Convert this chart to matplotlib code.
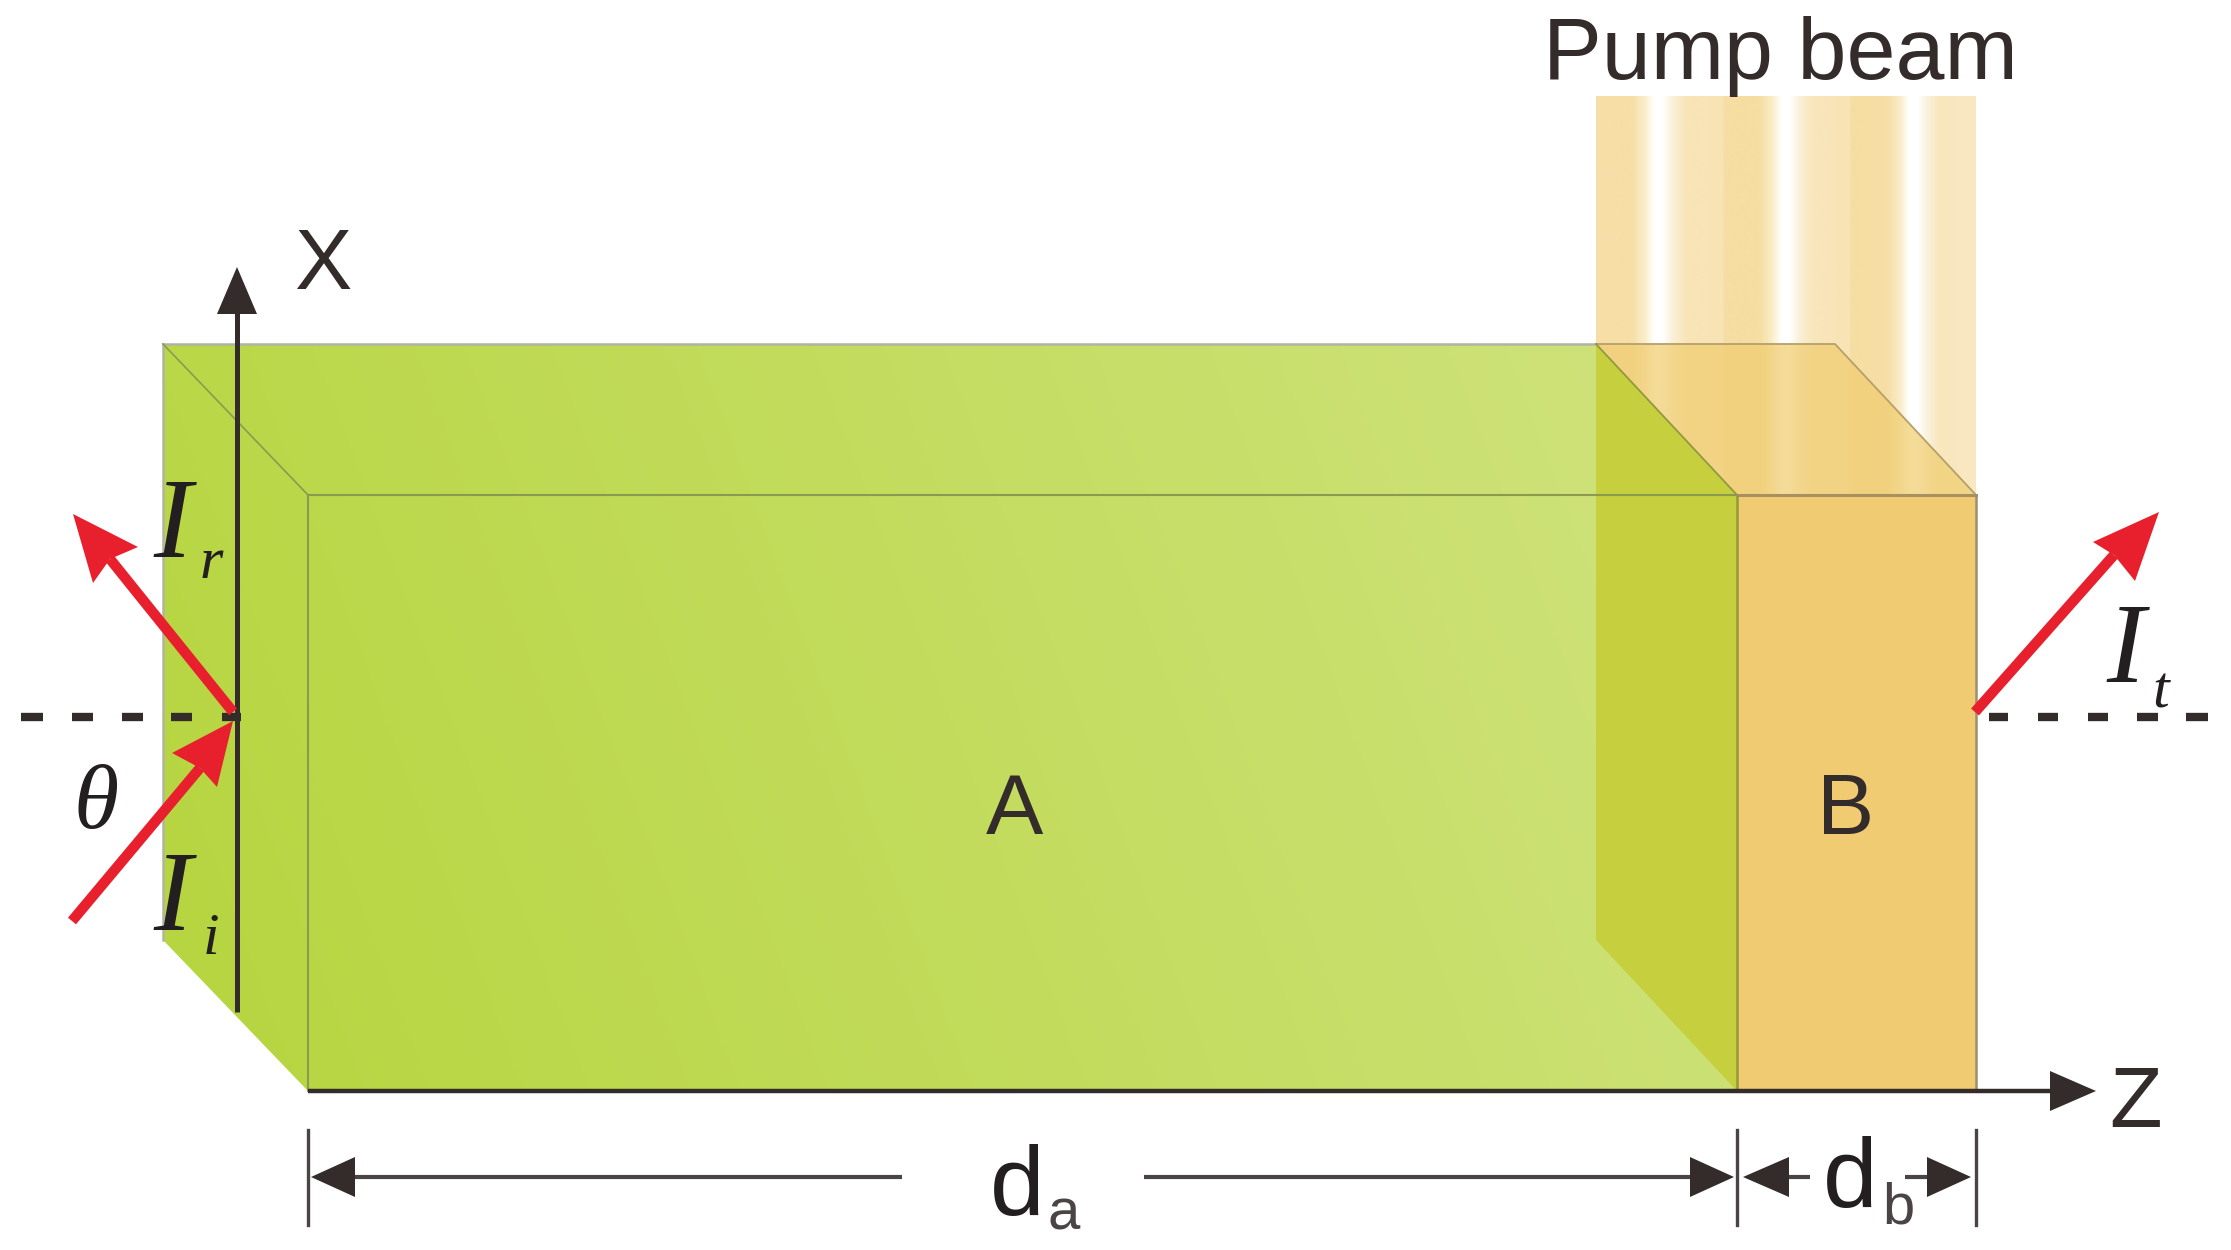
import numpy as np
import matplotlib
matplotlib.use('Agg')
import matplotlib.pyplot as plt
from matplotlib.colors import LinearSegmentedColormap
from matplotlib.patches import Polygon

W, H = 2231, 1250

# box corners, picture pixels
left_face = [(163, 344), (308, 495), (308, 1091), (163, 940)]
top_face = [(163, 344), (1596, 344), (1737, 495), (308, 495)]
front_face = [(308, 495), (1737, 495), (1737, 1091), (308, 1091)]
mid_face = [(1596, 344), (1737, 495), (1737, 1091), (1596, 940)]
b_top = [(1596, 344), (1835, 344), (1976, 495), (1737, 495)]
b_front = [(1737, 495), (1976, 495), (1976, 1091), (1737, 1091)]
beam_box = [1596, 1976, 96, 495]

# beam colours across x
beam_x = [1596, 1632, 1645, 1654, 1663, 1672, 1686, 1723, 1724, 1760, 1773, 1781, 1790, 1799, 1812, 1850, 1851, 1888, 1901, 1909, 1918, 1927, 1940, 1976]
beam_c = ['#f6dfa8', '#f6dea6', '#fbeecb', '#ffffff', '#ffffff', '#fbf1da', '#f8e5b8', '#f8e3b4', '#f6dda2',
          '#f6dda2', '#fbeecb', '#ffffff', '#ffffff', '#fbf1da', '#f8e6bc', '#f8e3b4', '#f6dda2',
          '#f6dea6', '#fbeecb', '#ffffff', '#ffffff', '#fbf2de', '#f8e6bc', '#f9e8c2']

# red arrows: tail, tip, two barbs, notch
arrow_r = [(233, 712), (73, 514), (93, 583), (138, 547), (110, 559)]
arrow_i = [(72, 921), (233, 721), (172, 753), (217, 787), (200, 768)]
arrow_t = [(1975, 712), (2159, 512), (2093, 542), (2135, 581), (2114, 555)]

dashes_left = [(21, 43), (72, 93), (122, 143), (171, 192), (222, 241)]
dashes_right = [(1989, 2008), (2038, 2058), (2088, 2108), (2137, 2158), (2186, 2208)]
dash_y = 717

dark = '#332c2b'
red = '#e8202d'

# text, x, baseline y, size in pixels
labels_sans = [('X', 294, 289, 86), ('Z', 2109, 1127, 86), ('A', 986, 834, 86), ('B', 1817, 834, 86),
               ('Pump beam', 1543, 79, 88)]
labels_d = [('d', 990, 1215, 'a', 1048, 1230), ('d', 1823, 1207, 'b', 1882, 1223)]
labels_i = [('I', 'r', 153, 557, 200, 578), ('I', 'i', 153, 930, 203, 954), ('I', 't', 2106, 682, 2152, 707)]

fig = plt.figure(figsize=(W / 100, H / 100), dpi=100)
ax = fig.add_axes([0, 0, 1, 1])
ax.set_xlim(0, W)
ax.set_ylim(H, 0)
ax.axis('off')


def gradient(poly, c0, c1, z=2):
    # mostly left to right shade, clipped to the face
    xs = [p[0] for p in poly]
    ys = [p[1] for p in poly]
    yy, xx = np.mgrid[min(ys):max(ys), min(xs):max(xs)]
    t = (xx - 163) / 1574 * 0.85 + (1091 - yy) / 747 * 0.15
    cmap = LinearSegmentedColormap.from_list('g', [c0, c1])
    im = ax.imshow(t, extent=[min(xs), max(xs), max(ys), min(ys)], cmap=cmap, vmin=0, vmax=1,
                   aspect='auto', zorder=z, interpolation='bilinear')
    im.set_clip_path(Polygon(poly, transform=ax.transData))


# pump beam
xn = (np.array(beam_x) - beam_x[0]) / (beam_x[-1] - beam_x[0])
beam_cmap = LinearSegmentedColormap.from_list('beam', list(zip(xn, beam_c)), N=1024)
ax.imshow(np.linspace(0, 1, 1024)[None, :], extent=[beam_box[0], beam_box[1], beam_box[3], beam_box[2]],
          cmap=beam_cmap, aspect='auto', zorder=1)

# box A
for face in [left_face, top_face, front_face]:
    gradient(face, '#b6d53e', '#d0e37e')
ax.add_patch(Polygon(mid_face, fc='#c6cf3e', ec='none', zorder=3))

# box B, top is see-through so the beam shows
ax.add_patch(Polygon(b_top, fc='#f0cd70', alpha=0.72, ec='none', zorder=4))
ax.add_patch(Polygon(b_front, fc='#f0cb72', ec='none', zorder=4))

# box edges
ax.plot([163, 1596], [344, 344], color='#b0b4a2', lw=1.8, zorder=5)
ax.plot([163, 163], [344, 940], color='#b0b4a2', lw=1.8, zorder=5)
ax.plot([163, 308], [344, 495], color='#8c9a50', lw=1.2, zorder=5)
ax.plot([308, 1737], [495, 495], color='#8c9a50', lw=1.5, zorder=5)
ax.plot([308, 308], [495, 1091], color='#8c9a50', lw=1.5, zorder=5)
ax.plot([1596, 1835, 1976], [344, 344, 495], color='#b5a06a', lw=1.3, zorder=5)
ax.plot([1596, 1737], [344, 495], color='#94983f', lw=1.3, zorder=5)
ax.plot([1737, 1976], [495, 495], color='#a89060', lw=2.2, zorder=5)
ax.plot([1976, 1976], [495, 1091], color='#9c8f70', lw=1.8, zorder=5)
ax.plot([1737, 1737], [495, 1091], color='#94983f', lw=1.8, zorder=5)


def head(tip, base, half, color=dark, z=7):
    tip = np.array(tip, float)
    base = np.array(base, float)
    n = (tip - base) / np.linalg.norm(tip - base)
    p = np.array([-n[1], n[0]])
    ax.add_patch(Polygon([tip, base + p * half, base - p * half], fc=color, ec='none', zorder=z))


# axes
ax.plot([237, 237], [1012, 300], color=dark, lw=3.6, zorder=6, solid_capstyle='butt')
head((237, 267), (237, 314), 20)
ax.plot([308, 2060], [1091, 1091], color=dark, lw=3.2, zorder=6, solid_capstyle='butt')
head((2096, 1091), (2050, 1091), 20)

# dimension lines
for x in [308, 1737, 1976]:
    ax.plot([x, x], [1130, 1225], color='#4a4445', lw=2.4, zorder=6)
for x0, x1 in [(340, 902), (1144, 1700), (1780, 1810), (1905, 1935)]:
    ax.plot([x0, x1], [1177, 1177], color='#4a4445', lw=3, zorder=6, solid_capstyle='butt')
head((311, 1177), (355, 1177), 20)
head((1734, 1177), (1690, 1177), 20)
head((1743, 1177), (1789, 1177), 20)
head((1971, 1177), (1927, 1177), 20)

# dashed normal
for x0, x1 in dashes_left + dashes_right:
    ax.plot([x0, x1], [dash_y, dash_y], color=dark, lw=6, zorder=6, solid_capstyle='butt')

# red rays
for tail, tip, b0, b1, notch in [arrow_r, arrow_i, arrow_t]:
    ax.plot([tail[0], notch[0]], [tail[1], notch[1]], color=red, lw=7.5, zorder=8, solid_capstyle='butt')
    ax.add_patch(Polygon([tip, b0, notch, b1], fc=red, ec='none', zorder=8))

# text
px = 72 / 100
for s, x, y, size in labels_sans:
    ax.text(x, y, s, family='Liberation Sans', fontsize=size * px, color=dark, ha='left', va='baseline', zorder=9)
for s, x, y, sub, xs, ys in labels_d:
    ax.text(x, y, s, family='Liberation Sans', fontsize=98 * px, color='#231f20', ha='left', va='baseline', zorder=9)
    ax.text(xs, ys, sub, family='Liberation Sans', fontsize=58 * px, color='#4a4445', ha='left', va='baseline', zorder=9)
for s, sub, x, y, xs, ys in labels_i:
    ax.text(x, y, s, family='Liberation Serif', style='italic', fontsize=115 * px, color='#231f20', ha='left', va='baseline', zorder=9)
    ax.text(xs, ys, sub, family='Liberation Serif', style='italic', fontsize=60 * px, color='#231f20', ha='left', va='baseline', zorder=9)
ax.text(74, 828, 'θ', family='Liberation Serif', style='italic', fontsize=92 * px, color='#231f20', ha='left', va='baseline', zorder=9)

ax.set_xlim(0, W)
ax.set_ylim(H, 0)
fig.savefig('out.png', dpi=100, facecolor='white')
